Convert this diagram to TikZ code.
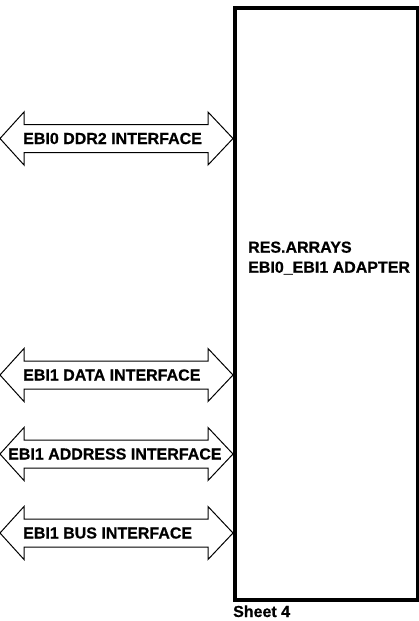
\documentclass[tikz,border=0pt]{standalone}
\usepackage{fontspec}
\setmainfont{Liberation Sans}[BoldFeatures={FakeBold=0.6}]
\begin{document}
\begin{tikzpicture}[x=1pt,y=-1pt,
    lbl/.style={font=\fontsize{16}{20}\selectfont\bfseries,inner sep=0pt},
    busarrow/.style={draw=black,line width=1pt,line join=miter}]
    \useasboundingbox (0,0) rectangle (418,621);
    % adapter block
    \node[draw,line width=4pt,minimum width=183pt,minimum height=591.5pt,
        anchor=north west,inner sep=0pt] (adapter) at (233,6) {};
    \node[lbl,anchor=base west,align=left] (title) at (248,272.7) {RES.ARRAYS\\EBI0\_EBI1 ADAPTER};
    \node[lbl,anchor=base west] (sheet) at (adapter.south west) [yshift=-15.5pt] {Sheet 4};
    % interfaces
    \foreach \y/\x/\n/\txt in {138.5/23/ddr/EBI0 DDR2 INTERFACE,
        375/23/data/EBI1 DATA INTERFACE,
        454/8/addr/EBI1 ADDRESS INTERFACE,
        533/23/bus/EBI1 BUS INTERFACE}{
        \coordinate (\n tip) at (adapter.west |- 0,\y);
        \draw[busarrow] (0,\y) -- ++(24,-26.5) -- ++(0,12.5) -- (208,\y-14) -- ++(0,-12.5)
            -- (\n tip) -- (208,\y+26.5) -- ++(0,-12.5) -- (24,\y+14) -- ++(0,12.5) -- cycle;
        \node[lbl,anchor=west] (\n) at (\x,\y) {\txt};
    }
\end{tikzpicture}
\end{document}
